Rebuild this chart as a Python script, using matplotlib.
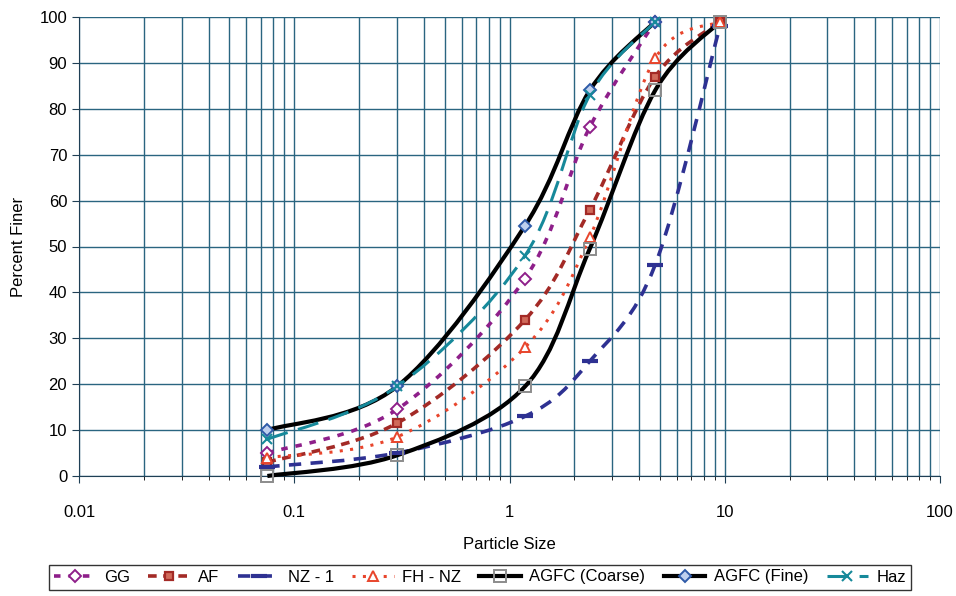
import matplotlib
matplotlib.use("Agg")
import matplotlib.pyplot as plt
import numpy as np
from matplotlib.path import Path
from matplotlib.patches import PathPatch
from matplotlib.lines import Line2D

plt.rcParams['font.family'] = ['Liberation Sans', 'DejaVu Sans']

# sieve sizes (mm)
sizes = [0.075, 0.3, 1.18, 2.36, 4.75, 9.5]

gg = [5, 14.5, 43, 76, 99]
af = [3, 11.5, 34, 58, 87, 99]
nz1 = [2, 5, 13, 25, 46, 98]
fh_nz = [4, 8.5, 28, 52, 91, 99]
agfc_coarse = [0, 4.5, 19.5, 49.5, 84, 99]
agfc_fine = [10, 19.5, 54.5, 84, 99]
haz = [8, 19.5, 48, 83, 99]


def smooth_path(x, y):
    # Excel-style smoothed line: Catmull-Rom as cubic Bezier in (log x, y)
    u = np.log10(np.asarray(x, float))
    v = np.asarray(y, float)
    P = np.column_stack([u, v])
    n = len(P)
    verts = [P[0]]
    codes = [Path.MOVETO]
    for i in range(n - 1):
        p0 = P[max(i - 1, 0)]
        p1 = P[i]
        p2 = P[i + 1]
        p3 = P[min(i + 2, n - 1)]
        c1 = p1 + (p2 - p0) / 6.0
        c2 = p2 - (p3 - p1) / 6.0
        verts += [c1, c2, p2]
        codes += [Path.CURVE4] * 3
    verts = np.array(verts)
    verts[:, 0] = 10 ** verts[:, 0]
    return Path(verts, codes)


series = [
    ("GG", gg, dict(color='#8E1F8A', lw=2.6, ls=(0, (1.8, 2.2))),
     dict(marker='D', ms=6.5, mfc='white', mec='#8E1F8A', mew=1.4)),
    ("AF", af, dict(color='#A32A26', lw=2.6, ls=(0, (2.4, 1.8))),
     dict(marker='s', ms=6, mfc='#D06A5A', mec='#A32A26', mew=1.6)),
    ("NZ - 1", nz1, dict(color='#2E3192', lw=2.6, ls=(0, (3.4, 2.6))),
     dict(marker='_', ms=11, mfc='#2E3192', mec='#2E3192', mew=3)),
    ("FH - NZ", fh_nz, dict(color='#E8452C', lw=2.2, ls=(0, (1.0, 2.4))),
     dict(marker='^', ms=7, mfc='white', mec='#E8452C', mew=1.4)),
    ("AGFC (Coarse)", agfc_coarse, dict(color='black', lw=3.0, ls='-'),
     dict(marker='s', ms=9, mfc='none', mec='#8C8C8C', mew=1.4)),
    ("AGFC (Fine)", agfc_fine, dict(color='black', lw=3.0, ls='-'),
     dict(marker='D', ms=6, mfc='#BFD0EE', mec='#2E5AA8', mew=1.4)),
    ("Haz", haz, dict(color='#16899A', lw=2.2, ls=(0, (7, 3.5))),
     dict(marker='x', ms=7, mfc='#16899A', mec='#16899A', mew=1.5)),
]

fig = plt.figure(figsize=(9.56, 5.96), dpi=100)
ax = fig.add_axes([79 / 956, 1 - 476 / 596, (940 - 79) / 956, (476 - 17) / 596])
ax.set_xscale('log')
ax.set_xlim(0.01, 100)
ax.set_ylim(0, 100)
ax.set_yticks(range(0, 101, 10))

ax.grid(True, which='both', axis='x', color='#2A6580', lw=1.0)
ax.grid(True, which='major', axis='y', color='#2A6580', lw=1.0)
ax.set_axisbelow(True)
for s in ['top', 'right']:
    ax.spines[s].set_visible(False)
ax.spines['left'].set_color('#1F3F55')
ax.spines['bottom'].set_color('#1F3F55')
ax.tick_params(axis='both', labelsize=12, direction='out', length=5, color='#1F3F55')
ax.tick_params(axis='x', which='minor', length=3)
ax.tick_params(axis='x', pad=16)
ax.xaxis.set_major_formatter(matplotlib.ticker.FuncFormatter(lambda v, p: f"{v:g}"))

handles = []
for z, (name, vals, lstyle, mstyle) in enumerate(series):
    xs = sizes[:len(vals)]
    patch = PathPatch(smooth_path(xs, vals), fill=False, edgecolor=lstyle['color'],
                      lw=lstyle['lw'], linestyle=lstyle['ls'], zorder=3 + z * 0.1,
                      clip_on=False)
    ax.add_patch(patch)
    ax.plot(xs, vals, linestyle='none', zorder=4 + z * 0.1, clip_on=False, **mstyle)
    handles.append(Line2D([], [], color=lstyle['color'], lw=lstyle['lw'],
                          linestyle=lstyle['ls'], **mstyle))

ax.set_xlabel("Particle Size", fontsize=12, labelpad=12)
ax.set_ylabel("Percent Finer", fontsize=12, labelpad=10)

leg = fig.legend(handles, [s[0] for s in series], loc='center',
                 bbox_to_anchor=(480 / 956, 1 - 577 / 596), ncol=7, fontsize=12,
                 frameon=True, fancybox=False, edgecolor='black', handlelength=2.5,
                 handletextpad=0.5, columnspacing=1.1, borderpad=0.3, numpoints=1)
leg.get_frame().set_linewidth(1.0)

fig.savefig("out.png", dpi=100)
